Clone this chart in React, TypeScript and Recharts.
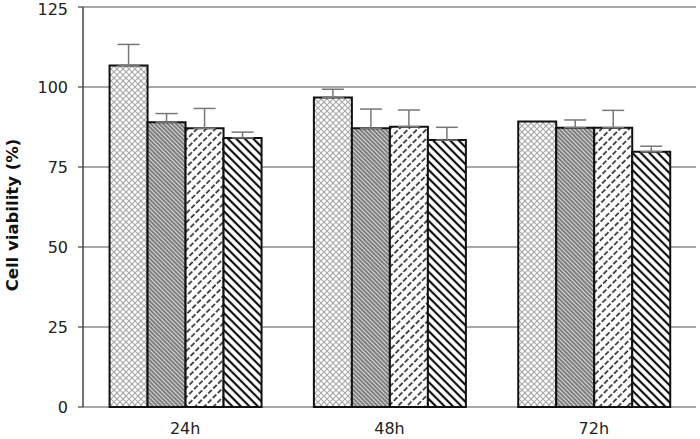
import { BarChart, Bar, XAxis, YAxis, CartesianGrid, ErrorBar } from 'recharts';

const times = ['24h', '48h', '72h'];
const seriesA = [106.7, 96.7, 89.2];
const seriesB = [89.0, 87.1, 87.3];
const seriesC = [87.1, 87.6, 87.3];
const seriesD = [84.1, 83.4, 79.8];
const errA = [6.6, 2.6, null];
const errB = [2.7, 6.0, 2.4];
const errC = [6.2, 5.2, 5.4];
const errD = [1.8, 4.0, 1.7];
const yTicks = [0, 25, 50, 75, 100, 125];

const data = times.map((t, i) => ({
  time: t,
  a: seriesA[i],
  b: seriesB[i],
  c: seriesC[i],
  d: seriesD[i],
  ea: errA[i] == null ? null : [0, errA[i]],
  eb: [0, errB[i]],
  ec: [0, errC[i]],
  ed: [0, errD[i]],
}));

const font = '"DejaVu Sans", Verdana, sans-serif';
const tickStyle = { fontSize: 16, fill: '#222', fontFamily: font };

const YLabel = ({ viewBox }: any) => {
  const x = 12;
  const y = viewBox.y + viewBox.height / 2 + 8;
  return (
    <text
      x={x}
      y={y}
      transform={`rotate(-90, ${x}, ${y})`}
      textAnchor="middle"
      dominantBaseline="central"
      style={{ fontSize: 16.5, fontWeight: 'bold', fontFamily: font, fill: '#111' }}
    >
      Cell viability (%)
    </text>
  );
};

export default function App() {
  return (
    <div>
      <style>{'body{margin:0;background:#fff}'}</style>
      <BarChart
        width={700}
        height={439}
        data={data}
        margin={{ top: 7, right: 4, left: 0, bottom: 0 }}
        barCategoryGap="13%"
        barGap={0}
      >
        <defs>
          <pattern id="pA" width="6" height="6" patternUnits="userSpaceOnUse">
            <rect width="6" height="6" fill="#fff" />
            <path d="M0,0 L6,6 M6,0 L0,6" stroke="#a8a8a8" strokeWidth="1.2" />
          </pattern>
          <pattern id="pB" width="3" height="3" patternUnits="userSpaceOnUse" patternTransform="rotate(-45)">
            <rect width="3" height="3" fill="#d8d8d8" />
            <line x1="1" y1="0" x2="1" y2="3" stroke="#444" strokeWidth="1.2" />
          </pattern>
          <pattern id="pC" width="6.5" height="7" patternUnits="userSpaceOnUse" patternTransform="rotate(45)">
            <rect width="6.5" height="7" fill="#fff" />
            <line x1="3" y1="0" x2="3" y2="5" stroke="#222" strokeWidth="1.6" />
          </pattern>
          <pattern id="pD" width="6" height="6" patternUnits="userSpaceOnUse" patternTransform="rotate(-45)">
            <rect width="6" height="6" fill="#fff" />
            <line x1="3" y1="0" x2="3" y2="6" stroke="#111" strokeWidth="2.2" />
          </pattern>
        </defs>
        <CartesianGrid vertical={false} stroke="#8a8a8a" strokeWidth={1.5} />
        <XAxis
          xAxisId="ticks"
          type="number"
          domain={[0, 3]}
          ticks={[1, 2]}
          height={0}
          tickSize={5}
          tickFormatter={() => ''}
          axisLine={{ stroke: '#444', strokeWidth: 1.5 }}
          tickLine={{ stroke: '#444', strokeWidth: 1.2 }}
        />
        <XAxis
          xAxisId="cat"
          dataKey="time"
          height={32}
          tickSize={0}
          tickMargin={16}
          tickLine={false}
          axisLine={false}
          tick={tickStyle}
        />
        <YAxis
          domain={[0, 125]}
          ticks={yTicks}
          width={83}
          tickSize={5}
          tickMargin={10}
          tick={tickStyle}
          axisLine={{ stroke: '#444', strokeWidth: 1.5 }}
          tickLine={{ stroke: '#444', strokeWidth: 1.2 }}
          label={<YLabel />}
        />
        <YAxis
          yAxisId="right"
          orientation="right"
          width={0}
          tick={false}
          tickLine={false}
          axisLine={{ stroke: '#777', strokeWidth: 1.5 }}
        />
        <Bar xAxisId="cat" dataKey="a" fill="url(#pA)" stroke="#111" strokeWidth={2} isAnimationActive={false}>
          <ErrorBar dataKey="ea" width={11} stroke="#777" strokeWidth={1.5} isAnimationActive={false} />
        </Bar>
        <Bar xAxisId="cat" dataKey="b" fill="url(#pB)" stroke="#111" strokeWidth={2} isAnimationActive={false}>
          <ErrorBar dataKey="eb" width={11} stroke="#777" strokeWidth={1.5} isAnimationActive={false} />
        </Bar>
        <Bar xAxisId="cat" dataKey="c" fill="url(#pC)" stroke="#111" strokeWidth={2} isAnimationActive={false}>
          <ErrorBar dataKey="ec" width={11} stroke="#777" strokeWidth={1.5} isAnimationActive={false} />
        </Bar>
        <Bar xAxisId="cat" dataKey="d" fill="url(#pD)" stroke="#111" strokeWidth={2} isAnimationActive={false}>
          <ErrorBar dataKey="ed" width={11} stroke="#777" strokeWidth={1.5} isAnimationActive={false} />
        </Bar>
      </BarChart>
    </div>
  );
}
